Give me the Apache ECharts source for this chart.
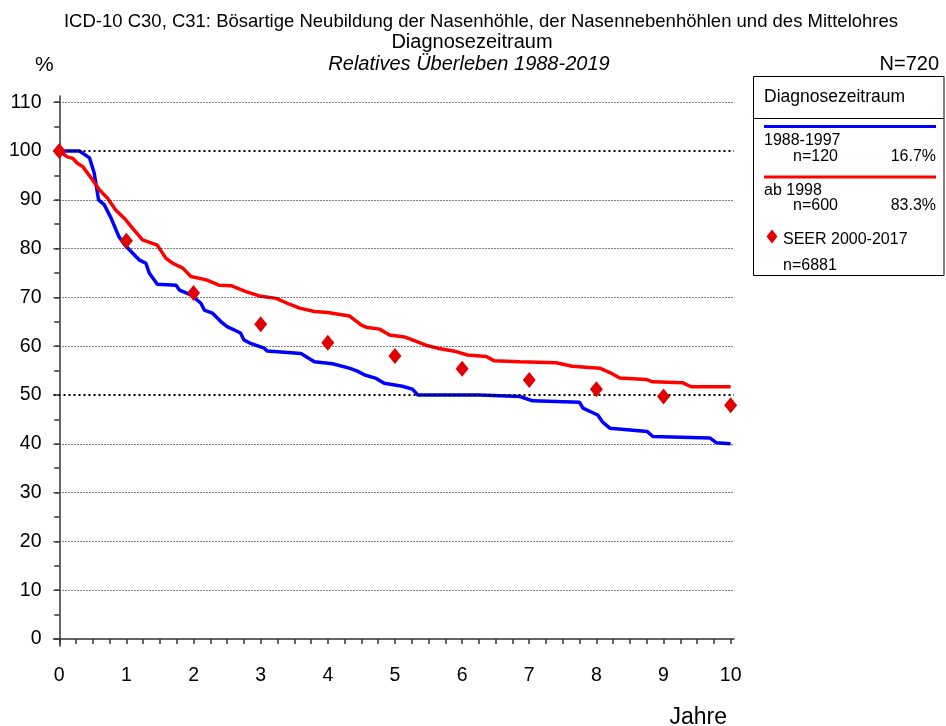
<!DOCTYPE html>
<html>
<head>
<meta charset="utf-8">
<script src="https://cdn.jsdelivr.net/npm/echarts@6/dist/echarts.min.js"></script>
<style>
html, body { margin: 0; padding: 0; background: #fff; }
#chart { width: 946px; height: 726px; }
</style>
</head>
<body>
<div id="chart"></div>
<script>
// 1988-1997 (blau)
const blueYears = [0, 0.3, 0.45, 0.52, 0.585, 0.67, 0.77, 0.89, 0.98, 1.12, 1.19, 1.29, 1.34, 1.46, 1.74, 1.79, 1.96, 2.11, 2.16, 2.28, 2.41, 2.5, 2.7, 2.75, 2.83, 3.05, 3.1, 3.6, 3.8, 4.07, 4.32, 4.44, 4.55, 4.72, 4.84, 5.11, 5.26, 5.34, 6.26, 6.86, 7.05, 7.75, 7.8, 8.02, 8.09, 8.2, 8.76, 8.84, 9.69, 9.79, 10.0];
const blueSurv = [100, 100, 98.6, 95.5, 90, 89, 86.3, 82.4, 80.7, 78.7, 77.7, 77, 75, 72.7, 72.5, 71.5, 70.5, 68.8, 67.4, 66.8, 65, 64, 62.7, 61.3, 60.7, 59.6, 59, 58.5, 56.8, 56.4, 55.5, 54.9, 54.1, 53.4, 52.4, 51.8, 51.2, 50, 50, 49.7, 48.8, 48.5, 47.3, 45.9, 44.5, 43.2, 42.5, 41.5, 41.2, 40.2, 40];

// ab 1998 (rot)
const redYears = [0, 0.12, 0.2, 0.27, 0.35, 0.5, 0.6, 0.72, 0.84, 0.99, 1.09, 1.24, 1.46, 1.59, 1.69, 1.84, 1.96, 2.19, 2.38, 2.56, 2.78, 2.98, 3.23, 3.43, 3.58, 3.8, 4.0, 4.32, 4.5, 4.57, 4.77, 4.92, 5.14, 5.26, 5.46, 5.63, 5.91, 6.08, 6.36, 6.48, 6.86, 7.4, 7.64, 8.05, 8.2, 8.35, 8.74, 8.84, 9.29, 9.41, 10.0];
const redSurv = [100, 98.8, 98.5, 97.5, 96.8, 94, 92, 90.3, 87.9, 85.9, 84.2, 81.8, 80.7, 78, 77, 76, 74.3, 73.6, 72.5, 72.4, 71.2, 70.3, 69.8, 68.6, 67.8, 67.1, 66.9, 66.2, 64.3, 63.9, 63.5, 62.3, 61.9, 61.3, 60.2, 59.6, 58.9, 58.2, 57.9, 57.0, 56.8, 56.6, 55.9, 55.5, 54.6, 53.5, 53.2, 52.7, 52.5, 51.7, 51.7];

// SEER 2000-2017
const seerYears = [0, 1, 2, 3, 4, 5, 6, 7, 8, 9, 10];
const seerSurv = [100, 81.6, 70.9, 64.5, 60.7, 58.0, 55.4, 53.1, 51.2, 49.7, 47.9];

// Achsen
const xLabels = [0, 1, 2, 3, 4, 5, 6, 7, 8, 9, 10];
const xTicks = [0, 0.25, 0.5, 0.75, 1, 1.25, 1.5, 1.75, 2, 2.25, 2.5, 2.75, 3, 3.25, 3.5, 3.75, 4, 4.25, 4.5, 4.75, 5, 5.25, 5.5, 5.75, 6, 6.25, 6.5, 6.75, 7, 7.25, 7.5, 7.75, 8, 8.25, 8.5, 8.75, 9, 9.25, 9.5, 9.75, 10];
const yLabels = [0, 10, 20, 30, 40, 50, 60, 70, 80, 90, 100, 110];
const yTicks = [0, 5, 10, 15, 20, 25, 30, 35, 40, 45, 50, 55, 60, 65, 70, 75, 80, 85, 90, 95, 100, 105, 110];
const gridThin = [10, 20, 30, 40, 60, 70, 80, 90, 110];
const gridBold = [50, 100];

const font = 'Liberation Sans, Arial, sans-serif';

function pairs(xs, ys) {
    return xs.map((x, i) => [x, ys[i]]);
}

function txt(text, size, extra) {
    return Object.assign({
        type: 'text',
        style: { text: text, font: size + 'px ' + font, fill: '#000' }
    }, extra);
}

const chart = echarts.init(document.getElementById('chart'));

const option = {
    animation: false,
    backgroundColor: '#fff',
    textStyle: { fontFamily: font },
    title: [
        {
            text: 'ICD-10 C30, C31: Bösartige Neubildung der Nasenhöhle, der Nasennebenhöhlen und des Mittelohres',
            left: 476, top: 7, textAlign: 'center',
            textStyle: { fontSize: 18.5, fontWeight: 'normal', color: '#000', fontFamily: font }
        },
        {
            text: 'Diagnosezeitraum',
            left: 467, top: 27, textAlign: 'center',
            textStyle: { fontSize: 20, fontWeight: 'normal', color: '#000', fontFamily: font }
        },
        {
            text: 'Relatives Überleben 1988-2019',
            left: 464, top: 49, textAlign: 'center',
            textStyle: { fontSize: 20, fontWeight: 'normal', fontStyle: 'italic', color: '#000', fontFamily: font }
        },
        {
            text: '%',
            left: 30, top: 50,
            textStyle: { fontSize: 21, fontWeight: 'normal', color: '#000', fontFamily: font }
        },
        {
            text: 'N=720',
            right: 2, top: 49,
            textStyle: { fontSize: 20, fontWeight: 'normal', color: '#000', fontFamily: font }
        },
        {
            text: 'Jahre',
            right: 214, top: 701,
            textStyle: { fontSize: 23, fontWeight: 'normal', color: '#000', fontFamily: font }
        }
    ],
    grid: { left: 53.5, top: 96, width: 680.5, height: 550, containLabel: false },
    xAxis: {
        type: 'value',
        min: -0.086,
        max: 10.05,
        axisLine: { show: true, lineStyle: { color: '#333', width: 1.5 } },
        axisTick: { show: true, customValues: xTicks, length: 5, lineStyle: { color: '#333', width: 1.5 } },
        axisLabel: { customValues: xLabels, margin: 20, fontSize: 19.5, color: '#000', fontFamily: font },
        splitLine: { show: false }
    },
    yAxis: {
        type: 'value',
        min: -1.43,
        max: 111.27,
        axisLine: { show: true, lineStyle: { color: '#333', width: 1.5 } },
        axisTick: { show: true, customValues: yTicks, length: 5, lineStyle: { color: '#333', width: 1.5 } },
        axisLabel: { customValues: yLabels, margin: 12, fontSize: 19.5, color: '#000', fontFamily: font },
        splitLine: { show: false }
    },
    series: [
        {
            name: 'Gitter',
            type: 'line',
            data: [],
            silent: true,
            z: 1,
            markLine: {
                silent: true,
                symbol: ['none', 'none'],
                label: { show: false },
                animation: false,
                data: gridThin.map(v => ({ yAxis: v, lineStyle: { color: '#000', width: 1, type: [1, 2] } }))
                    .concat(gridBold.map(v => ({ yAxis: v, lineStyle: { color: '#000', width: 2.2, type: [2, 3] } })))
            }
        },
        {
            name: '1988-1997',
            type: 'line',
            data: pairs(blueYears, blueSurv),
            showSymbol: false,
            lineStyle: { color: '#0000ff', width: 3.5 },
            itemStyle: { color: '#0000ff' },
            z: 3
        },
        {
            name: 'ab 1998',
            type: 'line',
            data: pairs(redYears, redSurv),
            showSymbol: false,
            lineStyle: { color: '#ff0000', width: 3.5 },
            itemStyle: { color: '#ff0000' },
            z: 4
        },
        {
            name: 'SEER 2000-2017',
            type: 'scatter',
            data: pairs(seerYears, seerSurv),
            symbol: 'diamond',
            symbolSize: [13, 16],
            itemStyle: { color: '#e00000', opacity: 1 },
            z: 5
        }
    ],
    graphic: [
        { type: 'rect', shape: { x: 753.5, y: 76.5, width: 190.5, height: 199 }, style: { fill: 'none', stroke: '#000', lineWidth: 1 } },
        { type: 'line', shape: { x1: 753, y1: 118.5, x2: 944, y2: 118.5 }, style: { stroke: '#000', lineWidth: 1 } },
        txt('Diagnosezeitraum', 17.5, { left: 764, top: 88 }),
        { type: 'line', shape: { x1: 764, y1: 126.5, x2: 936, y2: 126.5 }, style: { stroke: '#0000ff', lineWidth: 3 } },
        txt('1988-1997', 16, { left: 764, top: 133 }),
        txt('n=120', 16, { left: 793, top: 149 }),
        txt('16.7%', 16, { right: 10, top: 149 }),
        { type: 'line', shape: { x1: 764, y1: 177, x2: 936, y2: 177 }, style: { stroke: '#ff0000', lineWidth: 3 } },
        txt('ab 1998', 16, { left: 764, top: 183 }),
        txt('n=600', 16, { left: 793, top: 198 }),
        txt('83.3%', 16, { right: 10, top: 198 }),
        { type: 'polygon', shape: { points: [[772, 229.5], [777.5, 236.5], [772, 243.5], [766.5, 236.5]] }, style: { fill: '#e00000' } },
        txt('SEER 2000-2017', 16, { left: 783, top: 232 }),
        txt('n=6881', 16, { left: 783, top: 258 })
    ]
};

chart.setOption(option);
</script>
</body>
</html>
